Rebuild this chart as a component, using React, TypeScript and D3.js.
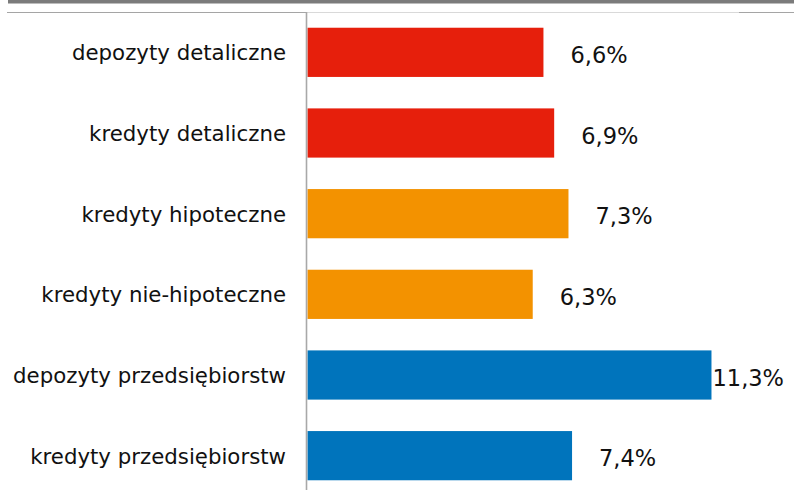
import React from "react";
import * as d3 from "d3";

const categories = [
  "depozyty detaliczne",
  "kredyty detaliczne",
  "kredyty hipoteczne",
  "kredyty nie-hipoteczne",
  "depozyty przedsiębiorstw",
  "kredyty przedsiębiorstw",
];
const values = [6.6, 6.9, 7.3, 6.3, 11.3, 7.4];
const barColors = ["#E61F0C", "#E61F0C", "#F39200", "#F39200", "#0074BC", "#0074BC"];
const labels = ["6,6%", "6,9%", "7,3%", "6,3%", "11,3%", "7,4%"];

const W = 801;
const H = 490;

export default function App() {
  const x0 = 307.5;
  const x = d3.scaleLinear().domain([0, 12]).range([x0, x0 + 12 * 35.75]);
  const y = d3
    .scaleBand<string>()
    .domain(categories)
    .range([12, 496])
    .paddingInner(0.39)
    .paddingOuter(0.195);
  const font = "'DejaVu Sans', Verdana, sans-serif";
  const labelRight = 784;
  const approxW = (s: string) => s.length * 0.635 * 22;

  return (
    <svg
      width={W}
      height={H}
      style={{ position: "absolute", left: 0, top: 0, display: "block" }}
    >
      <rect x={0} y={0} width={W} height={H} fill="#ffffff" />
      <rect x={8} y={0} width={786} height={3.5} fill="#7b7b7b" />
      <line x1={7} x2={306} y1={12.5} y2={12.5} stroke="#a5a5a5" strokeWidth={1} />
      <line x1={306} x2={739} y1={12.5} y2={12.5} stroke="#d9d9d9" strokeWidth={1} />
      <line x1={739} x2={794} y1={12.5} y2={12.5} stroke="#a5a5a5" strokeWidth={1} />
      {categories.map((c, i) => (
        <rect
          key={c}
          x={x(0)}
          y={y(c)!}
          width={x(values[i]) - x(0)}
          height={y.bandwidth()}
          fill={barColors[i]}
        />
      ))}
      <line x1={306.5} x2={306.5} y1={12} y2={H} stroke="#a8a8a8" strokeWidth={1.6} />
      {categories.map((c) => (
        <text
          key={c}
          x={286}
          y={y(c)! + y.bandwidth() / 2}
          dy="0.38em"
          textAnchor="end"
          fontFamily={font}
          fontSize={21.3}
          fill="#111"
        >
          {c}
        </text>
      ))}
      {categories.map((c, i) => {
        const lx = x(values[i]) + 27;
        const fits = lx + approxW(labels[i]) <= labelRight;
        return (
          <text
            key={c}
            x={fits ? lx : labelRight}
            y={y(c)! + y.bandwidth() / 2}
            dy="0.48em"
            textAnchor={fits ? "start" : "end"}
            fontFamily={font}
            fontSize={22.5}
            fill="#111"
          >
            {labels[i]}
          </text>
        );
      })}
    </svg>
  );
}
